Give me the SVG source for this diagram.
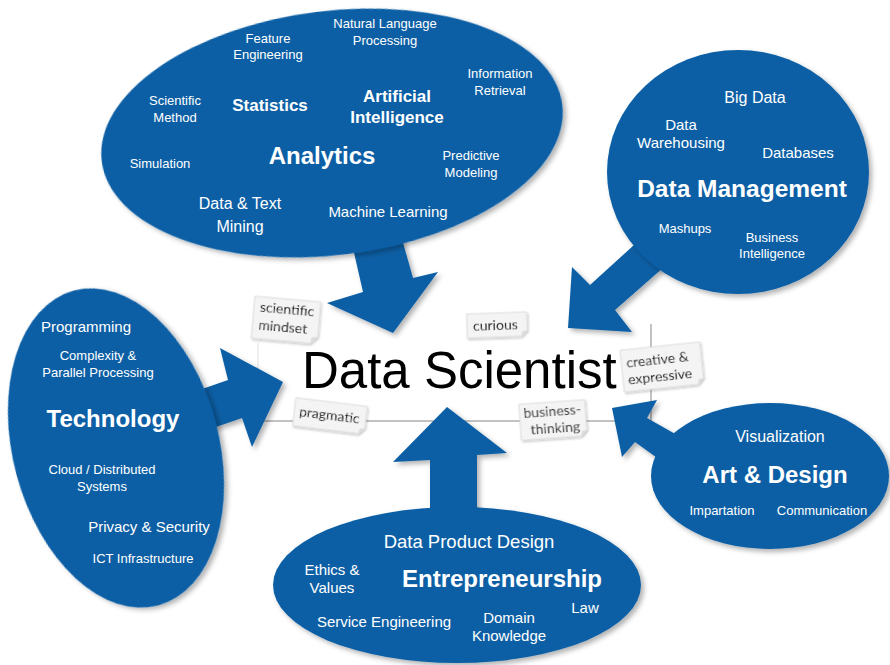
<svg xmlns="http://www.w3.org/2000/svg" width="890" height="665" viewBox="0 0 890 665">
<defs>
<filter id="sh" x="-10%" y="-10%" width="125%" height="125%">
<feDropShadow dx="3" dy="3" stdDeviation="2.5" flood-color="#000" flood-opacity="0.3"/>
</filter>
<filter id="nsh" x="-10%" y="-10%" width="130%" height="140%">
<feDropShadow dx="1" dy="1.5" stdDeviation="1" flood-color="#000" flood-opacity="0.25"/>
</filter>
</defs>
<style>
.blob{fill:#0a5fa5}
.arr{fill:#0a5fa5}
text{font-family:"Liberation Sans",Arial,sans-serif;fill:#fff;text-anchor:middle}
.b{font-weight:bold}
.note{fill:#f4f4f4;stroke:#d8d8d8;stroke-width:0.8}
.fold{fill:#dcdcdc}
.nt{font-family:Lato,"Open Sans",sans-serif;fill:#222;font-size:14px;text-anchor:start}
.ds{fill:#000;font-size:51px;text-anchor:start}
</style>

<g id="center">
<rect x="258" y="322" width="393" height="98" fill="#fff"/>
<path d="M258,343 V420" stroke="#e4e4e4" stroke-width="1.2" fill="none"/>
<path d="M651,324 V421 H258" stroke="#c2c2c2" stroke-width="2" fill="none"/>
<text class="ds" x="302" y="388">Data Scientist</text>
</g>

<g id="connectors" filter="url(#sh)">
<polygon class="arr" points="350,235 363,292 327,303 393,333 438,272 413,278 400,232"/>
<polygon class="arr" points="645,235 590,285 572,267 568,328 632,332 615,310 672,260"/>
<polygon class="arr" points="185,395 228,380 220,348 283,382 252,447 242,418 190,436"/>
<polygon class="arr" points="430,525 430,460 393,462 447,407 507,453 477,455 477,525"/>
<polygon class="arr" points="700,448 647,418 657,400 612,408 622,457 635,442 685,478"/>
</g>

<g id="analytics">
<ellipse class="blob" cx="332" cy="133" rx="232" ry="122" transform="rotate(-7 332 133)" filter="url(#sh)"/>
<text x="268" y="43" font-size="13">Feature</text>
<text x="268" y="59" font-size="13">Engineering</text>
<text x="385" y="28" font-size="13">Natural Language</text>
<text x="385" y="45" font-size="13">Processing</text>
<text x="500" y="78" font-size="13">Information</text>
<text x="500" y="95" font-size="13">Retrieval</text>
<text x="175" y="105" font-size="13">Scientific</text>
<text x="175" y="122" font-size="13">Method</text>
<text class="b" x="270" y="111" font-size="17">Statistics</text>
<text class="b" x="397" y="102" font-size="17">Artificial</text>
<text class="b" x="397" y="123" font-size="17">Intelligence</text>
<text class="b" x="322" y="164" font-size="24">Analytics</text>
<text x="160" y="168" font-size="13">Simulation</text>
<text x="471" y="160" font-size="13">Predictive</text>
<text x="471" y="177" font-size="13">Modeling</text>
<text x="240" y="209" font-size="16">Data &amp; Text</text>
<text x="240" y="232" font-size="16">Mining</text>
<text x="388" y="217" font-size="15">Machine Learning</text>
</g>

<g id="data-management">
<ellipse class="blob" cx="738" cy="172" rx="131" ry="122" filter="url(#sh)"/>
<text x="755" y="103" font-size="16">Big Data</text>
<text x="681" y="130" font-size="15">Data</text>
<text x="681" y="148" font-size="15">Warehousing</text>
<text x="798" y="158" font-size="15">Databases</text>
<text class="b" x="742" y="197" font-size="24.5">Data Management</text>
<text x="685" y="233" font-size="13">Mashups</text>
<text x="772" y="242" font-size="13">Business</text>
<text x="772" y="258" font-size="13">Intelligence</text>
</g>

<g id="technology">
<ellipse class="blob" cx="116" cy="448" rx="103" ry="163" transform="rotate(-15 116 448)" filter="url(#sh)"/>
<text x="86" y="332" font-size="15">Programming</text>
<text x="98" y="360" font-size="13">Complexity &amp;</text>
<text x="98" y="377" font-size="13">Parallel Processing</text>
<text class="b" x="113" y="427" font-size="24">Technology</text>
<text x="102" y="474" font-size="13">Cloud / Distributed</text>
<text x="102" y="491" font-size="13">Systems</text>
<text x="149" y="532" font-size="15">Privacy &amp; Security</text>
<text x="143" y="563" font-size="13">ICT Infrastructure</text>
</g>

<g id="entrepreneurship">
<ellipse class="blob" cx="457" cy="585" rx="184" ry="78" filter="url(#sh)"/>
<text x="469" y="548" font-size="18.5">Data Product Design</text>
<text x="332" y="575" font-size="15">Ethics &amp;</text>
<text x="332" y="593" font-size="15">Values</text>
<text class="b" x="502" y="587" font-size="24">Entrepreneurship</text>
<text x="585" y="613" font-size="15">Law</text>
<text x="384" y="627" font-size="15">Service Engineering</text>
<text x="509" y="623" font-size="15">Domain</text>
<text x="509" y="641" font-size="15">Knowledge</text>
</g>

<g id="art-design">
<ellipse class="blob" cx="770" cy="476" rx="119" ry="73" filter="url(#sh)"/>
<text x="780" y="442" font-size="16">Visualization</text>
<text class="b" x="775" y="483" font-size="24">Art &amp; Design</text>
<text x="722" y="515" font-size="13">Impartation</text>
<text x="822" y="515" font-size="13">Communication</text>
</g>

<g id="note-scientific-mindset" transform="translate(286 320) rotate(5)" filter="url(#nsh)">
<path class="note" d="M-33,-21 H33 V14 L26,21 H-33 Z"/>
<path class="fold" d="M33,14 L26,21 L27,15 Z"/>
<text class="nt" x="-27" y="-6">scientific</text>
<text class="nt" x="-27" y="12">mindset</text>
</g>

<g id="note-curious" transform="translate(497 325) rotate(-2)" filter="url(#nsh)">
<path class="note" d="M-30,-12 H30 V6 L24,12 H-30 Z"/>
<path class="fold" d="M30,6 L24,12 L25,7 Z"/>
<text class="nt" x="-24" y="5">curious</text>
</g>

<g id="note-creative" transform="translate(662 367) rotate(-6)" filter="url(#nsh)">
<path class="note" d="M-40,-21 H40 V15 L34,21 H-40 Z"/>
<path class="fold" d="M40,15 L34,21 L35,16 Z"/>
<text class="nt" x="-35" y="-3">creative &amp;</text>
<text class="nt" x="-35" y="14">expressive</text>
</g>

<g id="note-pragmatic" transform="translate(330 416) rotate(7)" filter="url(#nsh)">
<path class="note" d="M-36,-14 H36 V8 L30,14 H-36 Z"/>
<path class="fold" d="M36,8 L30,14 L31,9 Z"/>
<text class="nt" x="-31" y="4">pragmatic</text>
</g>

<g id="note-business" transform="translate(553 420) rotate(-4)" filter="url(#nsh)">
<path class="note" d="M-33,-18 H33 V12 L27,18 H-33 Z"/>
<path class="fold" d="M33,12 L27,18 L28,13 Z"/>
<text class="nt" x="-29" y="-4">business-</text>
<text class="nt" x="-23" y="13">thinking</text>
</g>
</svg>
